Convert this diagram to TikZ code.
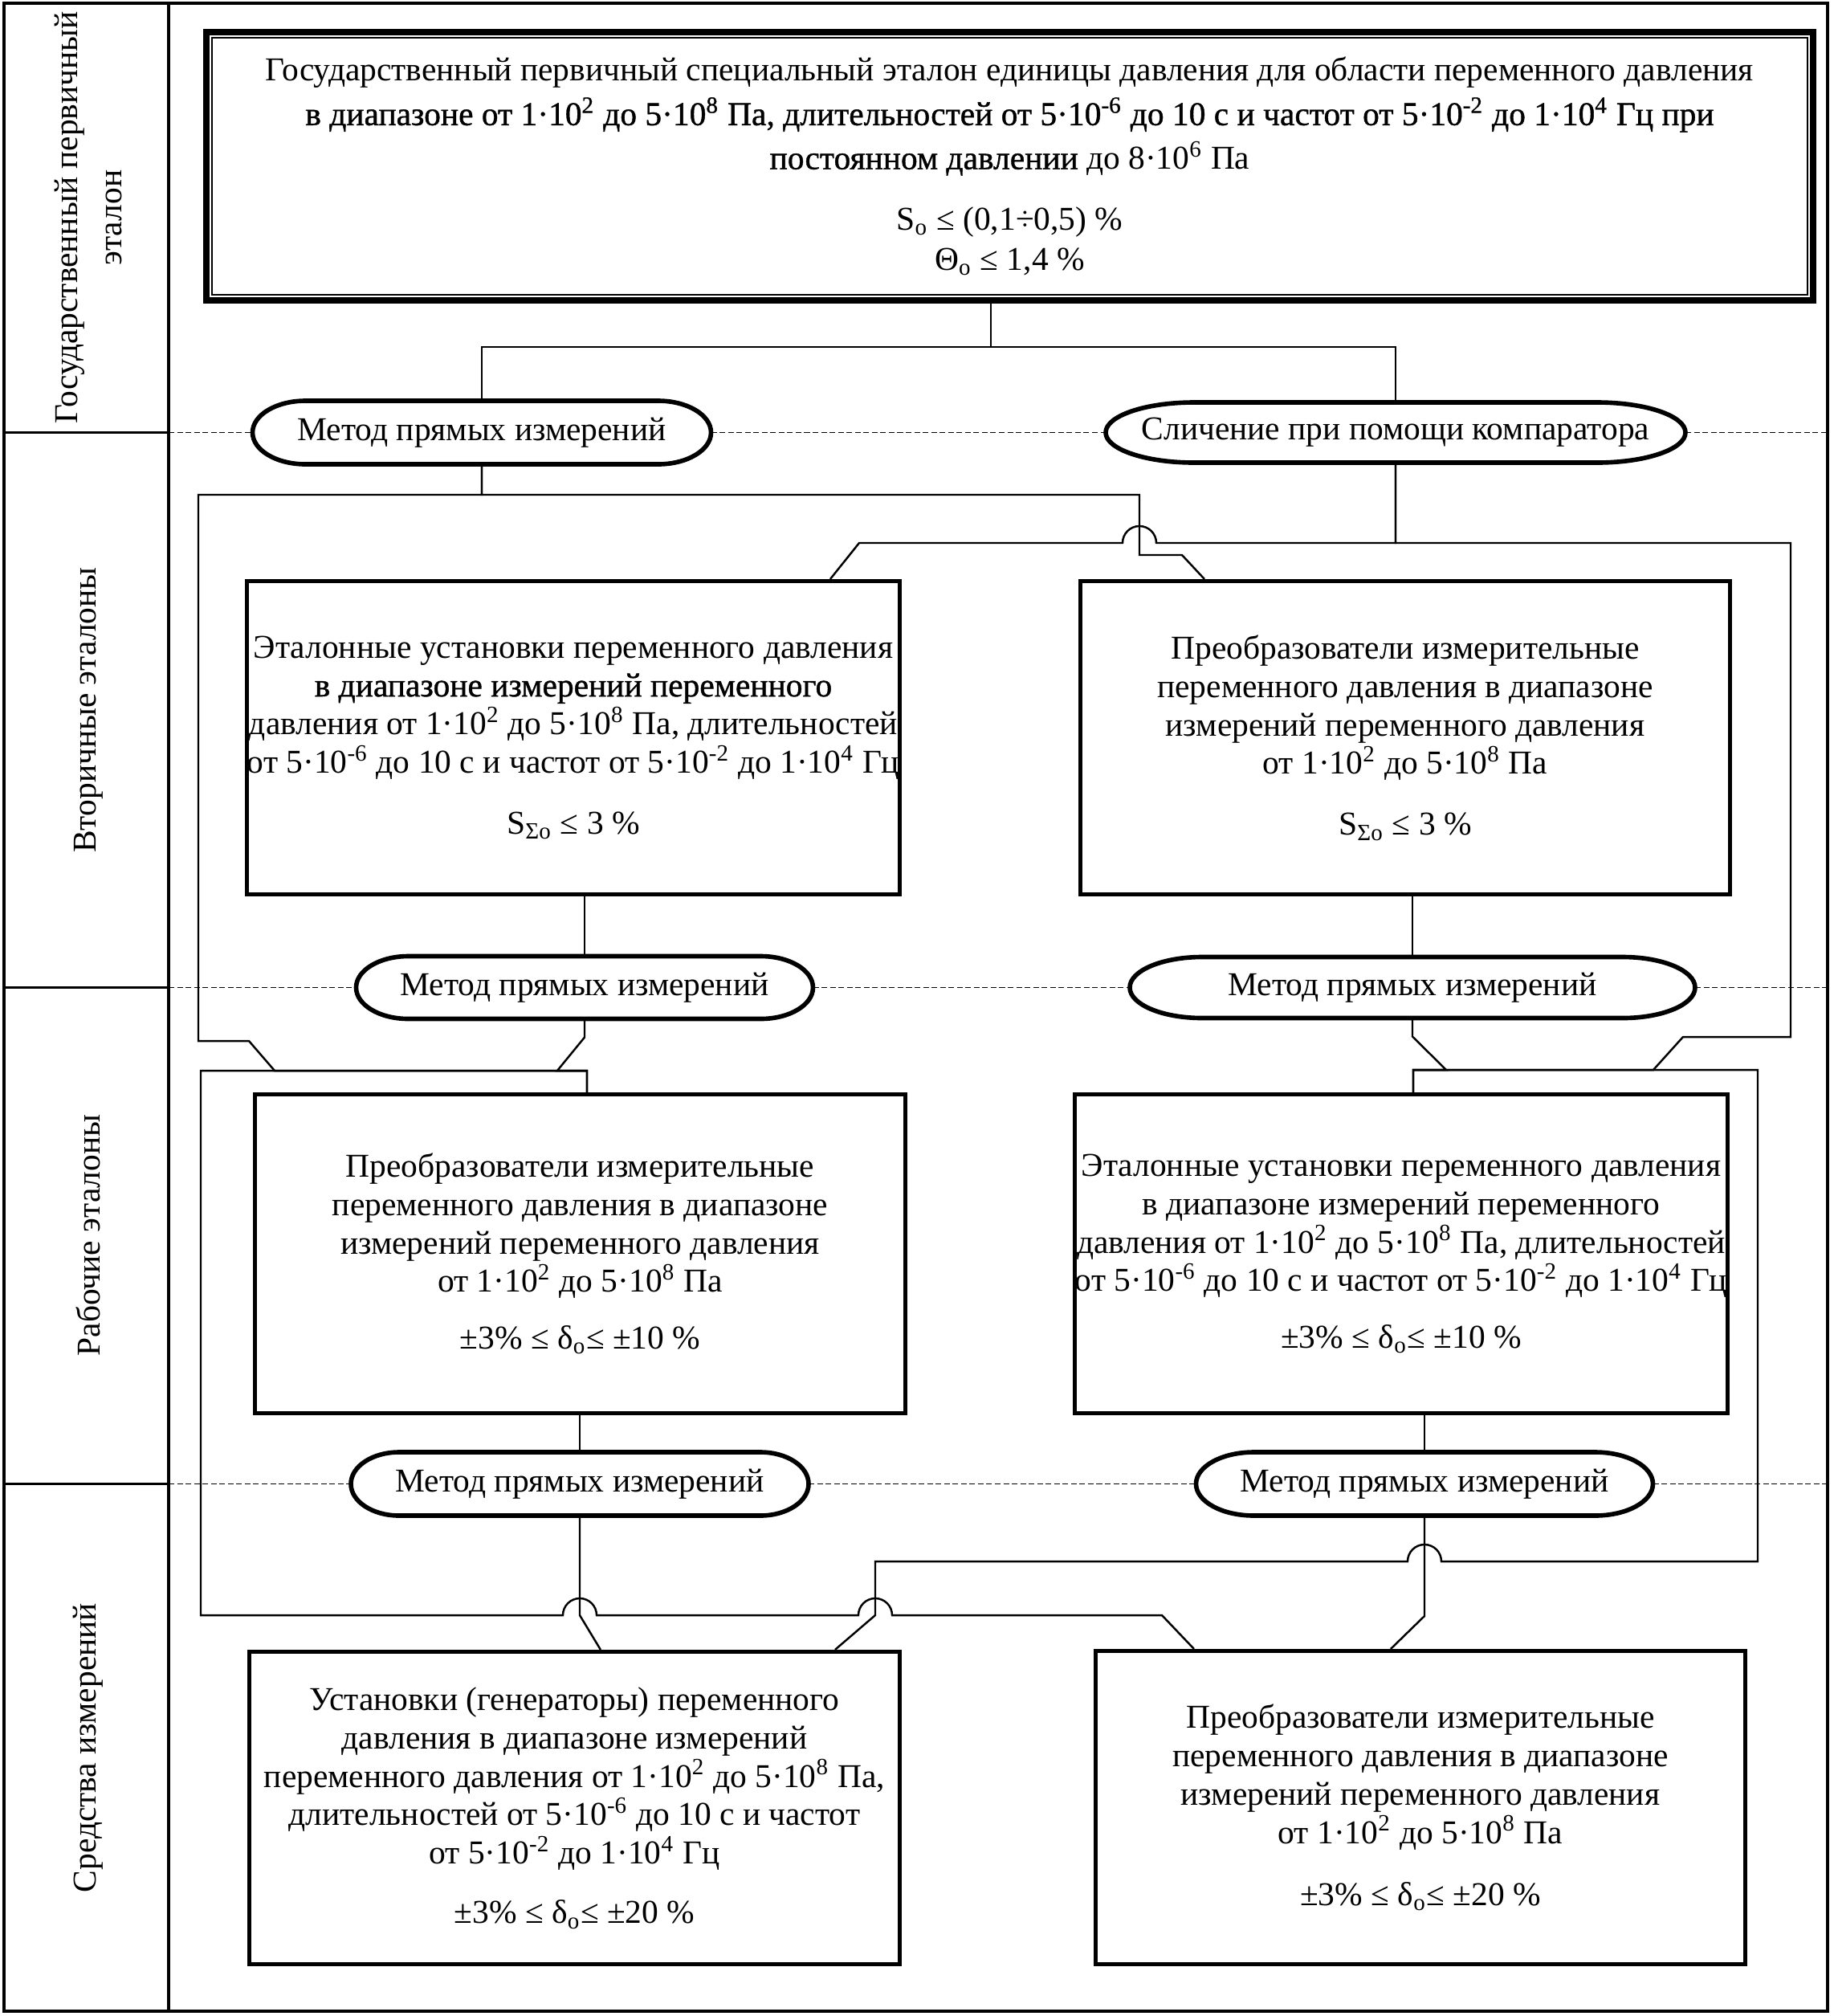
\documentclass[tikz,border=0pt]{standalone}
\usepackage{fontspec}
\setmainfont{Liberation Serif}
\newfontface\darkface{Liberation Serif}[FakeBold=1]
\usetikzlibrary{positioning,calc}

\begin{document}
\begin{tikzpicture}[
  outerline/.style={line width=1.2pt},
  gridline/.style={line width=0.9pt},
  divider/.style={line width=0.5pt, dash pattern=on 2pt off 1pt},
  link/.style={line width=0.7pt},
  box/.style={draw, line width=1.45pt, align=center, inner sep=0pt, font=\fontsize{11.8}{13.6}\selectfont},
  oval/.style={inner sep=0pt, outer sep=0pt, font=\fontsize{11.8}{13.6}\selectfont},
  lane/.style={rotate=90, align=center, font=\fontsize{11.8}{15.5}\selectfont},
]
  \useasboundingbox (0,0) rectangle (22.84,-25.10);

  \coordinate (frameL) at (0.05,0);
  \coordinate (colline) at (2.10,0);
  \coordinate (frameR) at (22.76,0);
  \draw[outerline] (0.05,-0.04) rectangle (22.76,-25.04);
  \draw[gridline] (2.10,-0.04) -- (2.10,-25.04);

  \node[lane] (lane1) at (1.10,-2.71) {Государственный первичный\\эталон};
  \node[lane] (lane2) at (1.10,-8.84) {Вторичные эталоны};
  \node[lane] (lane3) at (1.10,-15.38) {Рабочие эталоны};
  \node[lane] (lane4) at (1.10,-21.76) {Средства измерений};

  \node[box, line width=2.3pt, minimum width=20.01cm, minimum height=3.34cm,
        font=\fontsize{11.8}{15.6}\selectfont] (top) at (12.575,-2.07)
    {Государственный первичный специальный эталон единицы давления для области переменного давления\\
     {\darkface в диапазоне от 1·10\textsuperscript{2} до 5·10\textsuperscript{8} Па, длительностей от 5·10\textsuperscript{-6} до 10 с и частот от 5·10\textsuperscript{-2} до 1·10\textsuperscript{4} Гц при}\\
     {\darkface постоянном давлении} до 8·10\textsuperscript{6} Па\\[6pt]
     S\textsubscript{о} ≤ (0,1÷0,5) \%\\[-1.5pt]
     Θ\textsubscript{о} ≤ 1,4 \%};
  \draw[line width=0.5pt] ([shift={(0.11,-0.11)}]top.north west) rectangle ([shift={(-0.11,0.11)}]top.south east);

  \node[oval, minimum width=5.71cm, minimum height=0.79cm] (mth1) at (6.00,-5.385) {Метод прямых измерений};
  \node[oval, minimum width=7.22cm, minimum height=0.75cm] (cmp) at (17.38,-5.385) {Сличение при помощи компаратора};

  \node[box, minimum width=8.13cm, minimum height=3.90cm] (sec1) at (7.14,-9.185)
    {Эталонные установки переменного давления\\
     {\darkface в диапазоне измерений переменного}\\
     давления от 1·10\textsuperscript{2} до 5·10\textsuperscript{8} Па, длительностей\\
     от 5·10\textsuperscript{-6} до 10 с и частот от 5·10\textsuperscript{-2} до 1·10\textsuperscript{4} Гц\\[8pt]
     S\textsubscript{Σо} ≤ 3 \%};
  \node[box, minimum width=8.09cm, minimum height=3.90cm] (sec2) at (17.50,-9.185)
    {Преобразователи измерительные\\
     переменного давления в диапазоне\\
     измерений переменного давления\\
     от 1·10\textsuperscript{2} до 5·10\textsuperscript{8} Па\\[8pt]
     S\textsubscript{Σо} ≤ 3 \%};

  \node[oval, minimum width=5.69cm, minimum height=0.78cm] (mth2) at (7.28,-12.295) {Метод прямых измерений};
  \node[oval, minimum width=7.04cm, minimum height=0.76cm] (mth3) at (17.59,-12.295) {Метод прямых измерений};

  \node[box, minimum width=8.10cm, minimum height=3.97cm] (wrk1) at (7.225,-15.61)
    {Преобразователи измерительные\\
     переменного давления в диапазоне\\
     измерений переменного давления\\
     от 1·10\textsuperscript{2} до 5·10\textsuperscript{8} Па\\[6.5pt]
     ±3\% ≤ δ\textsubscript{о}≤ ±10 \%};
  \node[box, minimum width=8.11cm, minimum height=3.97cm] (wrk2) at (17.45,-15.61)
    {Эталонные установки переменного давления\\
     в диапазоне измерений переменного\\
     давления от 1·10\textsuperscript{2} до 5·10\textsuperscript{8} Па, длительностей\\
     от 5·10\textsuperscript{-6} до 10 с и частот от 5·10\textsuperscript{-2} до 1·10\textsuperscript{4} Гц\\[6.5pt]
     ±3\% ≤ δ\textsubscript{о}≤ ±10 \%};

  \node[oval, minimum width=5.70cm, minimum height=0.79cm] (mth4) at (7.22,-18.475) {Метод прямых измерений};
  \node[oval, minimum width=5.69cm, minimum height=0.79cm] (mth5) at (17.74,-18.475) {Метод прямых измерений};

  \node[box, minimum width=8.10cm, minimum height=3.89cm] (dev1) at (7.155,-22.51)
    {Установки (генераторы) переменного\\
     давления в диапазоне измерений\\
     переменного давления от 1·10\textsuperscript{2} до 5·10\textsuperscript{8} Па,\\
     длительностей от 5·10\textsuperscript{-6} до 10 с и частот\\
     от 5·10\textsuperscript{-2} до 1·10\textsuperscript{4} Гц\\[7.5pt]
     ±3\% ≤ δ\textsubscript{о}≤ ±20 \%};
  \node[box, minimum width=8.09cm, minimum height=3.90cm] (dev2) at (17.69,-22.505)
    {Преобразователи измерительные\\
     переменного давления в диапазоне\\
     измерений переменного давления\\
     от 1·10\textsuperscript{2} до 5·10\textsuperscript{8} Па\\[8.4pt]
     ±3\% ≤ δ\textsubscript{о}≤ ±20 \%};

  \foreach \o/\r/\h in {mth1/0.66/0.395, cmp/1.1/0.375, mth2/0.65/0.39, mth3/0.9/0.38, mth4/0.6/0.395, mth5/0.72/0.395}
    \draw[line width=1.6pt] ([xshift=\r cm]\o.north west) -- ([xshift=-\r cm]\o.north east)
      arc[start angle=90, end angle=-90, x radius=\r, y radius=\h] -- ([xshift=\r cm]\o.south west)
      arc[start angle=270, end angle=90, x radius=\r, y radius=\h] -- cycle;

  \foreach \o in {mth1, mth2, mth4}
    \draw[gridline] (\o.west -| frameL) -- (\o.west -| colline);
  \draw[divider] (mth1.west -| colline) -- (mth1.west);
  \draw[divider] (mth1.east) -- (cmp.west);
  \draw[divider] (cmp.east) -- (cmp.east -| frameR);
  \draw[divider] (mth2.west -| colline) -- (mth2.west);
  \draw[divider] (mth2.east) -- (mth3.west);
  \draw[divider] (mth3.east) -- (mth3.east -| frameR);
  \draw[divider] (mth4.west -| colline) -- (mth4.west);
  \draw[divider] (mth4.east) -- (mth5.west);
  \draw[divider] (mth5.east) -- (mth5.east -| frameR);

  \draw[link] ([xshift=-2.35mm]top.south) -- ++(0,-0.54) coordinate (fork);
  \draw[link] (mth1.north) |- (fork) -| (cmp.north);

  \draw[link] (mth1.south) |- (14.19,-6.16) -- (14.19,-6.91) -- (14.72,-6.91) -- ([xshift=1.57cm]sec2.north west);
  \draw[link] (mth1.south) |- (2.47,-6.16) -- (2.47,-12.96) -- (3.10,-12.96) -- (3.42,-13.33) -- (7.31,-13.33) -- ([xshift=0.085cm]wrk1.north);
  \draw[link] (cmp.south) |- (14.40,-6.76) arc[start angle=0, end angle=180, radius=0.21] -- (10.70,-6.76) -- ([xshift=7.29cm]sec1.north west);
  \draw[link] (cmp.south) |- (22.30,-6.76) -- (22.30,-12.91) -- (20.96,-12.91) -- (20.59,-13.32) -- (17.60,-13.32) -- ([xshift=0.15cm]wrk2.north);

  \draw[link] (sec1.south -| mth2.north) -- (mth2.north);
  \draw[link] (sec2.south -| mth3.north) -- (mth3.north);
  \draw[link] (mth2.south) -- ++(0,-0.23) -- (6.94,-13.33) -- (7.31,-13.33) -- ([xshift=0.085cm]wrk1.north);
  \draw[link] (mth3.south) -- ++(0,-0.23) -- (18.01,-13.32) -- (17.60,-13.32) -- ([xshift=0.15cm]wrk2.north);

  \draw[link] (wrk1.south -| mth4.north) -- (mth4.north);
  \draw[link] (wrk2.south -| mth5.north) -- (mth5.north);
  \draw[link] ([xshift=0.085cm]wrk1.north) -- (7.31,-13.33) -- (2.50,-13.33) -- (2.50,-20.11) -- (7.01,-20.11)
    arc[start angle=180, end angle=0, radius=0.21] -- (10.69,-20.11)
    arc[start angle=180, end angle=0, radius=0.21] -- (14.47,-20.11) -- ([xshift=1.25cm]dev2.north west);
  \draw[link] ([xshift=0.15cm]wrk2.north) -- (17.60,-13.32) -- (21.89,-13.32) -- (21.89,-19.44) -- (17.95,-19.44)
    arc[start angle=0, end angle=180, radius=0.21] -- (10.90,-19.44) -- (10.90,-20.11) -- ([xshift=7.32cm]dev1.north west);
  \draw[link] (mth4.south) -- (7.22,-20.11) -- ([xshift=4.40cm]dev1.north west);
  \draw[link] (mth5.south) -- (17.74,-20.12) -- ([xshift=3.70cm]dev2.north west);
\end{tikzpicture}
\end{document}
